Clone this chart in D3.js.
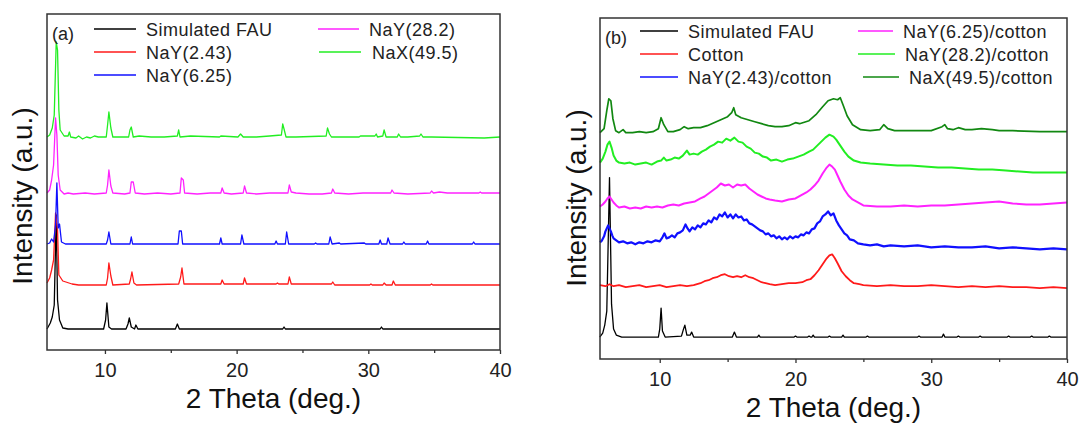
<!DOCTYPE html>
<html>
<head>
<meta charset="utf-8">
<script src="https://cdn.jsdelivr.net/npm/d3@7/dist/d3.min.js"></script>
<style>
	body { margin: 0; background: #fff; }
	svg { display: block; font-family: "Liberation Sans", Arial, sans-serif; }
</style>
</head>
<body>
<svg id="chart" width="1086" height="426"></svg>
<script>
// x axis (2 theta, deg.)
var thetaRange = [5.6, 40];
var majorTicks = [10, 20, 30, 40];
var minorTicks = [15, 25, 35];

// intensity is arbitrary, traces are stacked with offsets
var intensityA = [0, 336];
var intensityB = [0, 342];

// ---- panel (a) ----
var namesA = ["Simulated FAU", "NaY(2.43)", "NaY(6.25)", "NaY(28.2)", "NaX(49.5)"];

var fauA = [[5.6,21],[5.85,27],[6.0,33],[6.15,45],[6.3,135],[6.4,50],[6.55,30],[6.8,22],[7.2,21],[9.9,21],[10.05,30],[10.15,47],[10.3,23],[10.5,21],
	[11.6,21],[11.75,26],[11.85,32],[12.0,23],[12.25,21],[12.35,25],[12.5,21],[15.35,21],[15.5,26],[15.65,21],[23.5,21],[23.6,23],[23.7,21],
	[30.9,21],[31.0,23],[31.1,21],[40,21]];

var nay243A = [[5.6,67],[5.8,72],[5.95,80],[6.1,90],[6.25,137],[6.4,120],[6.5,75],[6.8,69],[7.5,66],[8,65],[10.1,65],[10.2,72],[10.3,87],[10.45,74],[10.6,65],
	[11.85,66],[11.95,71],[12.05,78],[12.2,67],[12.4,65],[15.6,66],[15.75,73],[15.85,82],[16.0,66],[18.8,66],[18.9,70],[19.05,66],[20.5,66],[20.6,72],[20.75,66],
	[23.0,66],[23.1,67],[23.2,66],[23.9,66],[24.0,73],[24.15,66],[27.2,66],[27.3,68],[27.45,65],[30.1,65],[30.2,66],[30.3,65],[31.1,65],[31.2,67],[31.35,65],
	[31.8,65],[31.9,69],[32.05,65],[34.7,65],[34.8,66],[34.9,65],[40,65]];

var nay625A = [[5.6,106],[5.8,107],[5.95,111],[6.1,108],[6.25,125],[6.35,167],[6.45,122],[6.55,126],[6.7,108],[7,106],[10.1,106],[10.2,110],[10.3,118],[10.45,106],
	[11.9,106],[12.0,113],[12.1,106],[15.55,106],[15.65,119],[15.8,119],[15.9,106],[18.7,106],[18.8,112],[18.9,106],[20.3,106],[20.4,115],[20.55,106],
	[22.9,106],[23.0,109],[23.1,106],[23.7,106],[23.8,118],[23.95,106],[25.9,106],[26.0,107],[26.1,106],[27.0,106],[27.1,113],[27.25,106],[27.8,107],[27.9,106],
	[29.7,107],[29.8,106],[30.8,106],[30.9,110],[31.0,106],[31.4,106],[31.5,112],[31.65,106],[32.6,106],[32.7,108],[32.8,106],[34.4,106],[34.5,109],[34.6,106],
	[37.9,106],[38.0,108],[38.1,106],[40,106]];

var nay282A = [[5.6,157],[5.8,160],[5.95,170],[6.1,185],[6.25,232],[6.35,215],[6.45,175],[6.6,160],[6.9,156],[7.2,157],[7.6,156],[8.5,157],[9.2,156],[10.1,157],
	[10.2,165],[10.3,180],[10.45,164],[10.6,157],[11.5,156],[11.9,157],[12.0,168],[12.15,168],[12.3,157],[13,156],[14,157],[15.0,156],[15.7,157],[15.8,172],
	[15.95,170],[16.05,157],[17,156],[18,157],[18.8,157],[18.9,162],[19.05,157],[19.6,156],[20.5,157],[20.6,164],[20.75,157],[21.5,156],[22.5,157],[23.9,157],
	[24.0,165],[24.15,158],[24.5,157],[25.5,156],[26.5,156],[27.2,157],[27.3,161],[27.45,157],[28.5,156],[29.6,157],[31.0,157],[31.7,157],[31.8,160],[31.95,157],
	[33,156],[34.7,157],[34.8,159],[34.95,157],[35.4,158],[36,157],[38.4,157],[38.5,158],[38.6,157],[40,157]];

var nax495A = [[5.6,213],[5.8,215],[6.0,222],[6.15,235],[6.3,308],[6.4,300],[6.5,240],[6.6,220],[6.9,214],[7.2,214],[7.3,218],[7.4,213],[7.8,212],[8.0,214],
	[8.3,211],[8.6,213],[8.9,212],[9.2,214],[9.5,213],[10.1,213],[10.2,225],[10.3,238],[10.45,222],[10.6,213],[11.8,213],[11.9,220],[12.0,223],[12.15,213],
	[12.6,214],[13.5,213],[14.5,213],[15.5,214],[15.6,220],[15.7,213],[16.5,214],[18.7,213],[18.8,214],[20.1,213],[20.3,216],[20.5,213],[21.5,213],[22.5,214],
	[23.4,215],[23.5,226],[23.6,221],[23.75,213],[24.5,213],[26.8,214],[26.9,222],[27.05,216],[27.2,213],[29.3,213],[29.4,214],[30.5,214],[30.6,216],[30.7,213],
	[31.1,214],[31.2,220],[31.35,213],[32.2,213],[32.3,216],[32.45,213],[33.0,213],[33.9,214],[34.0,216],[34.15,213],[34.8,213],[38.8,212],[40,213]];

// ---- panel (b) ----
var namesB = ["Simulated FAU", "Cotton", "NaY(2.43)/cotton", "NaY(6.25)/cotton", "NaY(28.2)/cotton", "NaX(49.5)/cotton"];

var fauB = [[5.58,22],[5.8,26],[5.95,34],[6.1,48],[6.3,182],[6.45,55],[6.6,30],[6.8,24],[7.2,22],[9.9,22],[10.0,30],[10.1,51],[10.2,28],[10.4,22],
	[11.6,23],[11.75,30],[11.85,34],[12.0,24],[12.25,24],[12.35,27],[12.5,22],[15.35,22],[15.5,27],[15.65,22],[17.2,22],[17.3,24],[17.4,22],
	[19.9,22],[20.0,23],[20.1,22],[20.9,22],[21.0,23],[21.1,22],[21.2,22],[21.3,24],[21.4,22],[22.4,22],[22.5,23],[22.6,22],[23.4,22],[23.5,24],[23.6,22],
	[25.2,22],[25.3,23],[25.4,22],[29.0,22],[29.1,23],[29.2,22],[30.8,22],[30.9,25],[31.0,22],[31.9,22],[32.0,23],[32.1,22],[33.5,22],[33.6,23],[33.7,22],
	[35.6,22],[35.7,23],[35.8,22],[37.3,22],[37.4,23],[37.5,22],[38.6,22],[38.7,23],[38.8,22],[40,22]];

var cottonB = [[5.6,74],[6,73],[6.3,75],[6.6,73],[7,74],[7.5,72],[8,73],[8.5,74],[9,72],[9.5,73],[10,74],[10.5,72],[11,73],[11.5,74],[12,73],[12.5,74],
	[13,76],[13.3,78],[13.6,79],[13.9,81],[14.2,82],[14.5,84],[14.8,85],[15.1,83],[15.4,82],[15.7,83],[16.0,82],[16.3,84],[16.6,82],[16.9,81],[17.2,79],
	[17.5,77],[17.8,76],[18.1,75],[18.5,74],[19,75],[19.5,76],[20,76],[20.5,77],[20.8,79],[21.1,80],[21.4,84],[21.7,89],[22.0,95],[22.3,101],[22.5,104],
	[22.7,105],[22.9,101],[23.1,96],[23.4,88],[23.7,83],[24,79],[24.3,76],[24.7,75],[25,74],[26,73],[27,74],[28,73],[29,73],[30,74],[31,73],[32,72],
	[33,73],[34,72],[35,73],[36,72],[37,72],[38,71],[39,72],[40,71]];

var nay243B = [[5.6,117],[5.75,119],[5.9,123],[6.0,128],[6.1,131],[6.2,134],[6.3,131],[6.4,128],[6.5,124],[6.6,121],[6.8,119],[7.0,117],[7.3,118],[7.6,116],
	[7.9,117],[8.2,115],[8.5,117],[8.8,116],[9.1,118],[9.4,117],[9.7,119],[10.0,118],[10.2,122],[10.35,126],[10.5,121],[10.7,122],[10.9,124],[11.1,122],
	[11.3,126],[11.5,127],[11.7,129],[11.9,135],[12.05,131],[12.2,128],[12.4,132],[12.6,130],[12.8,134],[13.0,132],[13.2,136],[13.4,135],[13.6,139],
	[13.8,137],[14.0,142],[14.2,140],[14.4,145],[14.6,143],[14.8,147],[15.0,142],[15.2,145],[15.4,141],[15.6,145],[15.8,142],[16.0,143],[16.2,139],
	[16.4,140],[16.6,136],[16.8,135],[17.0,133],[17.2,131],[17.4,129],[17.6,128],[17.8,125],[18.0,126],[18.2,123],[18.4,124],[18.6,121],[18.8,123],
	[19.0,120],[19.2,122],[19.4,120],[19.6,123],[19.8,121],[20.0,123],[20.2,122],[20.4,125],[20.6,124],[20.8,127],[21.0,126],[21.2,130],[21.4,131],
	[21.6,136],[21.8,138],[22.0,143],[22.2,145],[22.4,148],[22.6,144],[22.8,146],[23.0,139],[23.2,134],[23.4,130],[23.6,126],[23.8,124],[24.0,120],
	[24.3,119],[24.6,116],[25.0,115],[25.5,114],[26,115],[26.5,113],[27,114],[28,113],[29,114],[30,112],[31,113],[32,112],[33,112],[34,113],[35,111],
	[36,112],[37,111],[38,110],[39,111],[40,110]];

var nay625B = [[5.6,153],[5.8,155],[6.0,158],[6.15,161],[6.3,163],[6.45,160],[6.6,157],[6.8,154],[7.0,152],[7.4,153],[7.8,151],[8.2,152],[8.6,151],
	[9.0,153],[9.4,152],[9.8,153],[10.2,152],[10.6,154],[11.0,155],[11.4,154],[11.8,156],[12.2,157],[12.6,158],[13.0,161],[13.3,163],[13.6,166],[13.9,169],
	[14.2,172],[14.5,176],[14.8,174],[15.1,175],[15.4,172],[15.7,175],[16.0,174],[16.3,175],[16.6,171],[16.9,168],[17.2,165],[17.5,163],[17.8,161],
	[18.1,160],[18.5,159],[19.0,158],[19.5,160],[20.0,161],[20.4,164],[20.8,167],[21.1,170],[21.4,174],[21.7,179],[22.0,186],[22.3,192],[22.5,195],
	[22.7,193],[22.9,190],[23.1,184],[23.3,178],[23.6,170],[23.9,164],[24.2,160],[24.6,157],[25,154],[26,153],[27,153],[28,154],[29,153],[30,154],
	[31,154],[32,155],[33,156],[34,157],[35,158],[36,156],[37,155],[38,155],[39,156],[40,157]];

var nay282B = [[5.6,197],[5.8,201],[6.0,208],[6.15,215],[6.3,218],[6.45,212],[6.6,204],[6.8,199],[7.0,197],[7.4,196],[7.8,197],[8.2,195],[8.6,196],
	[9.0,197],[9.4,195],[9.8,198],[10.1,199],[10.3,202],[10.5,199],[10.8,200],[11.1,202],[11.4,201],[11.7,204],[12.0,209],[12.2,205],[12.5,206],
	[12.8,205],[13.1,208],[13.4,210],[13.7,213],[14.0,215],[14.3,218],[14.6,217],[14.9,221],[15.2,219],[15.5,222],[15.8,218],[16.1,217],[16.4,213],
	[16.7,211],[17.0,207],[17.3,206],[17.6,203],[17.9,202],[18.2,199],[18.6,200],[19.0,198],[19.4,200],[19.8,201],[20.2,203],[20.6,205],[21.0,208],
	[21.3,210],[21.6,214],[21.9,218],[22.2,222],[22.5,225],[22.8,223],[23.0,220],[23.3,214],[23.6,208],[23.9,203],[24.3,199],[24.8,197],[25.5,196],
	[26.5,195],[27.5,194],[28.5,194],[29.5,193],[30.5,192],[31.5,192],[32.5,191],[33.5,190],[34.5,190],[35.5,189],[36.5,188],[37.5,187],[38.5,187],[40,187]];

var nax495B = [[5.6,227],[5.9,231],[6.1,249],[6.25,261],[6.4,259],[6.55,241],[6.75,229],[7.0,227],[7.3,230],[7.5,227],[8,227],[8.5,228],[9,227],[9.5,228],
	[9.9,231],[10.1,242],[10.3,235],[10.6,228],[11,228],[11.5,230],[11.8,233],[12.1,231],[12.5,232],[13,232],[13.5,234],[14,237],[14.5,240],[15,243],
	[15.3,247],[15.45,252],[15.6,245],[16,242],[16.5,240],[17,238],[17.5,236],[18,234],[18.5,233],[19,233],[19.5,234],[20,237],[20.3,236],[21,239],
	[21.5,245],[22,253],[22.4,259],[22.8,261],[23.1,260],[23.3,262],[23.5,255],[23.8,244],[24.2,235],[24.8,230],[25.5,229],[26.2,230],[26.5,235],
	[26.8,231],[27.3,229],[28,229],[29,229],[30,229],[30.8,233],[31.0,235],[31.2,231],[31.6,230],[32,232],[32.5,230],[33,230],[33.7,231],[34.5,230],
	[35,229],[36,229],[38,228],[40,228]];

var colors = {
	black: "#000000", red: "#ff1a1a", blue: "#1010ff", magenta: "#ff22ff", green: "#22ee22", olive: "#118811"
};

var svg = d3.select("#chart");

/**
 * Draws one framed panel with its traces and legend
 * @param  {object} p panel settings
 */
function drawPanel(p) {
	var x = d3.scaleLinear().domain(thetaRange).range([p.left, p.right]);
	var y = d3.scaleLinear().domain(p.yDomain).range([p.bottom, p.top]);
	var g = svg.append("g");

	var line = d3.line()
		.x(function(d) { return x(d[0]); })
		.y(function(d) { return y(d[1]); });

	// traces, bottom one first
	p.series.forEach(function(s) {
		g.append("path")
			.attr("d", line(s.data))
			.attr("fill", "none")
			.attr("stroke", s.color)
			.attr("stroke-width", s.width)
			.attr("stroke-linejoin", "round");
	});

	// frame
	g.append("rect")
		.attr("x", p.left).attr("y", p.top)
		.attr("width", p.right - p.left).attr("height", p.bottom - p.top)
		.attr("fill", "none").attr("stroke", "#333").attr("stroke-width", 1.5);

	// bottom axis, ticks pointing out
	var axis = d3.axisBottom(x).tickValues(majorTicks).tickSize(4).tickPadding(9).tickFormat(d3.format("d"));
	var ax = g.append("g").attr("transform", "translate(0," + p.bottom + ")").call(axis);
	ax.select(".domain").remove();
	ax.selectAll("line").attr("stroke", "#333").attr("stroke-width", 1.3);
	ax.selectAll("text").attr("font-size", 20).attr("fill", "#222").attr("font-family", "Liberation Sans, Arial, sans-serif");

	var minor = d3.axisBottom(x).tickValues(minorTicks).tickSize(3).tickFormat("");
	var mx = g.append("g").attr("transform", "translate(0," + p.bottom + ")").call(minor);
	mx.select(".domain").remove();
	mx.selectAll("line").attr("stroke", "#333").attr("stroke-width", 1.3);

	// axis titles
	g.append("text")
		.attr("x", (p.left + p.right) / 2).attr("y", p.bottom + 58)
		.attr("text-anchor", "middle").attr("font-size", 28).attr("fill", "#111")
		.text("2 Theta (deg.)");
	g.append("text")
		.attr("transform", "translate(" + p.yTitleX + "," + p.yTitleY + ") rotate(-90)")
		.attr("text-anchor", "middle").attr("font-size", 28).attr("fill", "#111")
		.text("Intensity (a.u.)");

	// panel letter
	g.append("text")
		.attr("x", p.left + 5).attr("y", p.top + 26)
		.attr("font-size", 18).attr("fill", "#222")
		.text(p.letter);

	// legend
	p.legend.forEach(function(item) {
		g.append("line")
			.attr("x1", item.x1).attr("x2", item.x2)
			.attr("y1", item.y).attr("y2", item.y)
			.attr("stroke", item.color).attr("stroke-width", 1.5);
		g.append("text")
			.attr("x", item.tx).attr("y", item.y + 7)
			.attr("font-size", 18).attr("letter-spacing", 0.5).attr("fill", "#222")
			.text(item.name);
	});
}

// panel (a)
var colA = [colors.black, colors.red, colors.blue, colors.magenta, colors.green];
var legendA = [
	{x1: 94, x2: 136, tx: 146, y: 29},
	{x1: 94, x2: 136, tx: 146, y: 52},
	{x1: 94, x2: 136, tx: 146, y: 75},
	{x1: 318, x2: 359, tx: 369, y: 29},
	{x1: 319, x2: 361, tx: 372, y: 52}
];
drawPanel({
	letter: "(a)",
	left: 47, right: 500, top: 14, bottom: 350,
	yDomain: intensityA, yTitleX: 32, yTitleY: 196,
	series: [fauA, nay243A, nay625A, nay282A, nax495A].map(function(d, i) {
		return {data: d, color: colA[i], width: 1.3};
	}),
	legend: legendA.map(function(l, i) {
		l.name = namesA[i]; l.color = colA[i]; return l;
	})
});

// panel (b), measured traces are noisy so they get a heavier stroke
var colB = [colors.black, colors.red, colors.blue, colors.magenta, colors.green, colors.olive];
var widthB = [1.3, 1.8, 2.2, 2.0, 2.0, 1.7];
var legendB = [
	{x1: 640, x2: 678, tx: 688, y: 31},
	{x1: 640, x2: 678, tx: 688, y: 54},
	{x1: 640, x2: 678, tx: 688, y: 77},
	{x1: 858, x2: 893, tx: 903, y: 31},
	{x1: 858, x2: 895, tx: 905, y: 54},
	{x1: 863, x2: 899, tx: 909, y: 77}
];
drawPanel({
	letter: "(b)",
	left: 600, right: 1067, top: 18, bottom: 359,
	yDomain: intensityB, yTitleX: 586, yTitleY: 198,
	series: [fauB, cottonB, nay243B, nay625B, nay282B, nax495B].map(function(d, i) {
		return {data: d, color: colB[i], width: widthB[i]};
	}),
	legend: legendB.map(function(l, i) {
		l.name = namesB[i]; l.color = colB[i]; return l;
	})
});
</script>
</body>
</html>
